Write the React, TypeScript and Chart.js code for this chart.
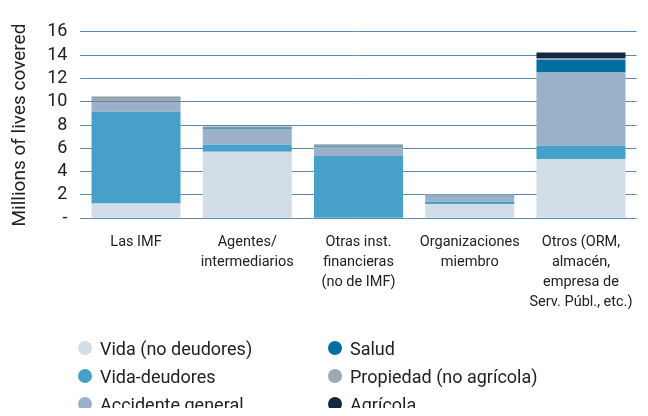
import React, { useEffect, useRef } from "react";
import { Chart, registerables } from "chart.js";

Chart.register(...registerables);

const categories: string[][] = [
  ["Las IMF"],
  ["Agentes/", "intermediarios"],
  ["Otras inst.", "financieras", "(no de IMF)"],
  ["Organizaciones", "miembro"],
  ["Otros (ORM,", "almacén,", "empresa de", "Serv. Públ., etc.)"],
];

const vidaNoDeudores = [1.26, 5.71, 0.05, 1.23, 5.08];
const vidaDeudores = [7.88, 0.6, 5.29, 0.2, 1.14];
const accidenteGeneral = [0.86, 1.37, 0.8, 0.43, 6.29];
const salud = [0.05, 0.1, 0.08, 0.08, 1.08];
const propiedad = [0.32, 0.05, 0.12, 0.12, 0.12];
const agricola = [0.05, 0.03, 0.02, 0.0, 0.51];

const seriesNames = [
  "Vida (no deudores)",
  "Vida-deudores",
  "Accidente general",
  "Salud",
  "Propiedad (no agrícola)",
  "Agrícola",
];
const seriesColors = ["#D2DDE8", "#47A0C9", "#9BB0C9", "#0070A0", "#A0A8B4", "#0F2A42"];
const seriesData = [vidaNoDeudores, vidaDeudores, accidenteGeneral, salud, propiedad, agricola];

const yTitle = "Millions of lives covered";
const FONT = "Roboto, 'Open Sans', sans-serif";

export default function App() {
  const ref = useRef<HTMLCanvasElement | null>(null);

  useEffect(() => {
    if (!ref.current) return;
    const chart = new Chart(ref.current, {
      type: "bar",
      data: {
        labels: categories,
        datasets: seriesData.map((d, i) => ({
          label: seriesNames[i],
          data: d,
          backgroundColor: seriesColors[i],
          borderWidth: 0,
          categoryPercentage: 1,
          barPercentage: 0.8,
        })),
      },
      options: {
        animation: false,
        responsive: false,
        maintainAspectRatio: false,
        layout: { padding: { top: 23.3, left: 0, right: 3.4, bottom: 0 } },
        plugins: { legend: { display: false }, tooltip: { enabled: false } },
        scales: {
          x: {
            stacked: true,
            grid: { display: false },
            border: { display: false },
            ticks: {
              color: "#222",
              font: { family: FONT, size: 14.5, lineHeight: "20px" },
              padding: 6,
              maxRotation: 0,
              autoSkip: false,
            },
            afterFit: (s: any) => {
              s.height = 119.7;
            },
          },
          y: {
            stacked: true,
            min: 0,
            max: 16,
            grid: { color: "#5F8AB0", lineWidth: 1, drawTicks: false },
            border: { display: false },
            ticks: {
              stepSize: 2,
              autoSkip: false,
              color: "#222",
              padding: 13,
              font: { family: FONT, size: 18 },
              callback: (v: any) => (Number(v) === 0 ? "-" : String(v)),
            },
            title: {
              display: true,
              text: yTitle,
              color: "#222",
              font: { family: FONT, size: 19 },
              padding: { top: 1, bottom: 0 },
            },
            afterFit: (s: any) => {
              s.width = 72.4;
            },
          },
        },
      },
    });
    return () => chart.destroy();
  }, []);

  const legendCols = [
    [0, 1, 2],
    [3, 4, 5],
  ];
  const colX = [77, 327];
  const rowY = [340, 368, 396];

  return (
    <div style={{ position: "relative", width: 632, height: 400, fontFamily: FONT }}>
      <canvas ref={ref} width={632} height={330} style={{ display: "block" }} />
      {legendCols.map((col, ci) =>
        col.map((si, ri) => (
          <div
            key={si}
            style={{
              position: "absolute",
              left: colX[ci] - 7,
              top: rowY[ri] - 12,
              height: 24,
              display: "flex",
              alignItems: "center",
              whiteSpace: "nowrap",
            }}
          >
            <span
              style={{
                display: "inline-block",
                width: 14,
                height: 14,
                borderRadius: "50%",
                background: seriesColors[si],
                marginRight: 8,
              }}
            />
            <span style={{ fontSize: 18, color: "#222" }}>{seriesNames[si]}</span>
          </div>
        ))
      )}
    </div>
  );
}
